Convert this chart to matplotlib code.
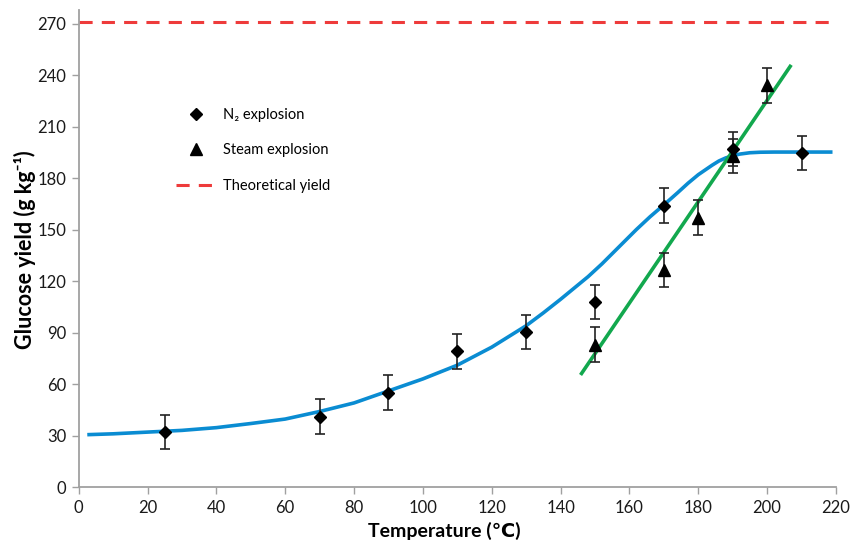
import matplotlib
matplotlib.use("Agg")
import matplotlib.pyplot as plt
from matplotlib.lines import Line2D

plt.rcParams['font.family'] = ['Lato', 'DejaVu Sans']

# N2 explosion measurements
n2_temp = [25, 70, 90, 110, 130, 150, 170, 190, 210]
n2_yield = [32, 41, 55, 79, 90.5, 108, 164, 197, 194.5]
n2_err = [10, 10, 10, 10, 10, 10, 10, 10, 10]

# Steam explosion measurements
steam_temp = [150, 170, 180, 190, 200]
steam_yield = [83, 126.5, 157, 193, 234]
steam_err = [10, 10, 10, 10, 10]

# Fitted curve for N2 explosion
fit_temp = [2.5, 10, 20, 30, 40, 50, 60, 70, 80, 90, 100, 110, 120, 130, 135,
            140, 144, 148, 152, 157, 162, 166, 170, 174, 177, 180, 184, 186, 188,
            190, 192, 195, 198, 202, 210, 219]
fit_yield = [30.5, 31, 32, 33, 34.6, 37, 39.6, 44, 49, 56, 63, 71, 81.5, 94, 101.5,
             109.4, 116, 122.6, 130, 140, 150, 157.5, 164.4, 171.5, 177, 182, 187.5, 190, 191.8,
             193, 194, 194.8, 195.1, 195.2, 195.2, 195.2]

# Linear fit for steam explosion
lin_temp = [145.8, 207]
lin_yield = [65.3, 246]

theoretical = 271

x_ticks = list(range(0, 221, 20))
y_ticks = list(range(0, 271, 30))

fig = plt.figure(figsize=(8.58, 5.45), dpi=100)
ax = fig.add_axes([0.0917, 0.1064, 0.8826, 0.8753])

blue = '#0A8CD2'
green = '#12A84E'
red = '#EE3B3B'

ax.axhline(theoretical, color=red, lw=2.2, dashes=(4.3, 3), zorder=1)
ax.plot(fit_temp, fit_yield, color=blue, lw=2.6, zorder=2, solid_capstyle='butt',
        solid_joinstyle='round')
ax.plot(lin_temp, lin_yield, color=green, lw=2.6, zorder=2, solid_capstyle='butt')

ax.errorbar(n2_temp, n2_yield, yerr=n2_err, fmt='D', color='black', ms=6.5,
            ecolor='#222222', elinewidth=1.2, capsize=3.5, capthick=1.2, zorder=4)
ax.errorbar(steam_temp, steam_yield, yerr=steam_err, fmt='^', color='black', ms=8,
            ecolor='#222222', elinewidth=1.2, capsize=3.5, capthick=1.2, zorder=4)

ax.set_xlim(0, 220)
ax.set_ylim(0, 278)
ax.set_xticks(x_ticks)
ax.set_yticks(y_ticks)
ax.tick_params(axis='both', direction='out', length=5, width=1, color='#A0A0A0',
               labelsize=12, labelcolor='#1a1a1a', pad=4)
for side in ('top', 'right'):
    ax.spines[side].set_visible(False)
for side in ('left', 'bottom'):
    ax.spines[side].set_color('#A0A0A0')
    ax.spines[side].set_linewidth(1.3)

ax.set_xlabel('Temperature (℃)', fontsize=14, fontweight='bold')
ax.set_ylabel('Glucose yield (g kg⁻¹)', fontsize=15.5, fontweight='bold')
ax.xaxis.set_label_coords(0.483, -0.073)
ax.yaxis.set_label_coords(-0.057, 0.497)

handles = [
    Line2D([], [], ls='none', marker='D', color='black', ms=6.5),
    Line2D([], [], ls='none', marker='^', color='black', ms=8),
    Line2D([], [], color=red, lw=2.2, dashes=(4.3, 3)),
]
labels = ['N₂ explosion', 'Steam explosion', 'Theoretical yield']
ax.legend(handles, labels, loc='upper left', bbox_to_anchor=(176 / 858, 1 - 108 / 545),
          bbox_transform=fig.transFigure, frameon=False, fontsize=10.5,
          handlelength=2.8, handletextpad=0.4, labelspacing=1.47, borderpad=0,
          borderaxespad=0)

fig.savefig('out.png', dpi=100)
